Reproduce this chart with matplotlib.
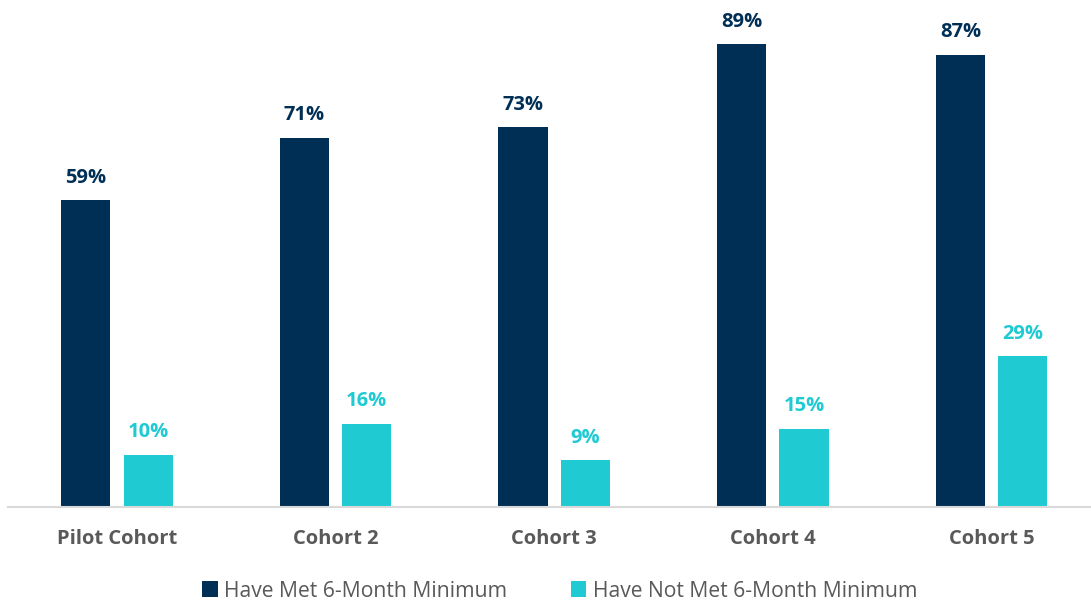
import matplotlib.pyplot as plt
import numpy as np

categories = ['Pilot Cohort', 'Cohort 2', 'Cohort 3', 'Cohort 4', 'Cohort 5']
met = [59, 71, 73, 89, 87]
not_met = [10, 16, 9, 15, 29]
series_names = ['Have Met 6-Month Minimum', 'Have Not Met 6-Month Minimum']

navy = '#002f56'
teal = '#1fcad3'
gray = '#595959'

fig = plt.figure(figsize=(10.91, 6.05), dpi=100)
ax = fig.add_axes([0.007, 0.162, 1.002, 0.838])

x = np.arange(len(categories))
w = 0.225
gap = 0.06
b1 = ax.bar(x - (w + gap) / 2, met, w, color=navy, label=series_names[0])
b2 = ax.bar(x + (w + gap) / 2, not_met, w, color=teal, label=series_names[1])

for bars, vals, c in [(b1, met, navy), (b2, not_met, teal)]:
    for r, v in zip(bars, vals):
        ax.annotate(f'{v}%', (r.get_x() + r.get_width() / 2, v),
                    xytext=(0, 9), textcoords='offset points',
                    ha='center', va='bottom', color=c,
                    fontsize=14.5, fontweight='bold', family='Open Sans')

ax.set_xlim(-0.5, len(categories) - 0.5)
ax.set_ylim(0, 97.5)
ax.set_xticks(x)
ax.set_xticklabels(categories, fontsize=14.5, fontweight='bold', color=gray, family='Open Sans')
ax.tick_params(axis='x', length=0, pad=16)
ax.set_yticks([])
for s in ['top', 'right', 'left']:
    ax.spines[s].set_visible(False)
ax.spines['bottom'].set_color('#d9d9d9')
ax.spines['bottom'].set_linewidth(1.5)

leg = fig.legend(handles=[b1, b2], loc='center', bbox_to_anchor=(0.513, 0.023),
                 ncol=2, frameon=False, handlelength=0.75, handleheight=0.75,
                 handletextpad=0.3, columnspacing=3.0,
                 prop={'family': 'Open Sans', 'size': 15.2})
for t in leg.get_texts():
    t.set_color(gray)

plt.savefig('out.png', dpi=100)
